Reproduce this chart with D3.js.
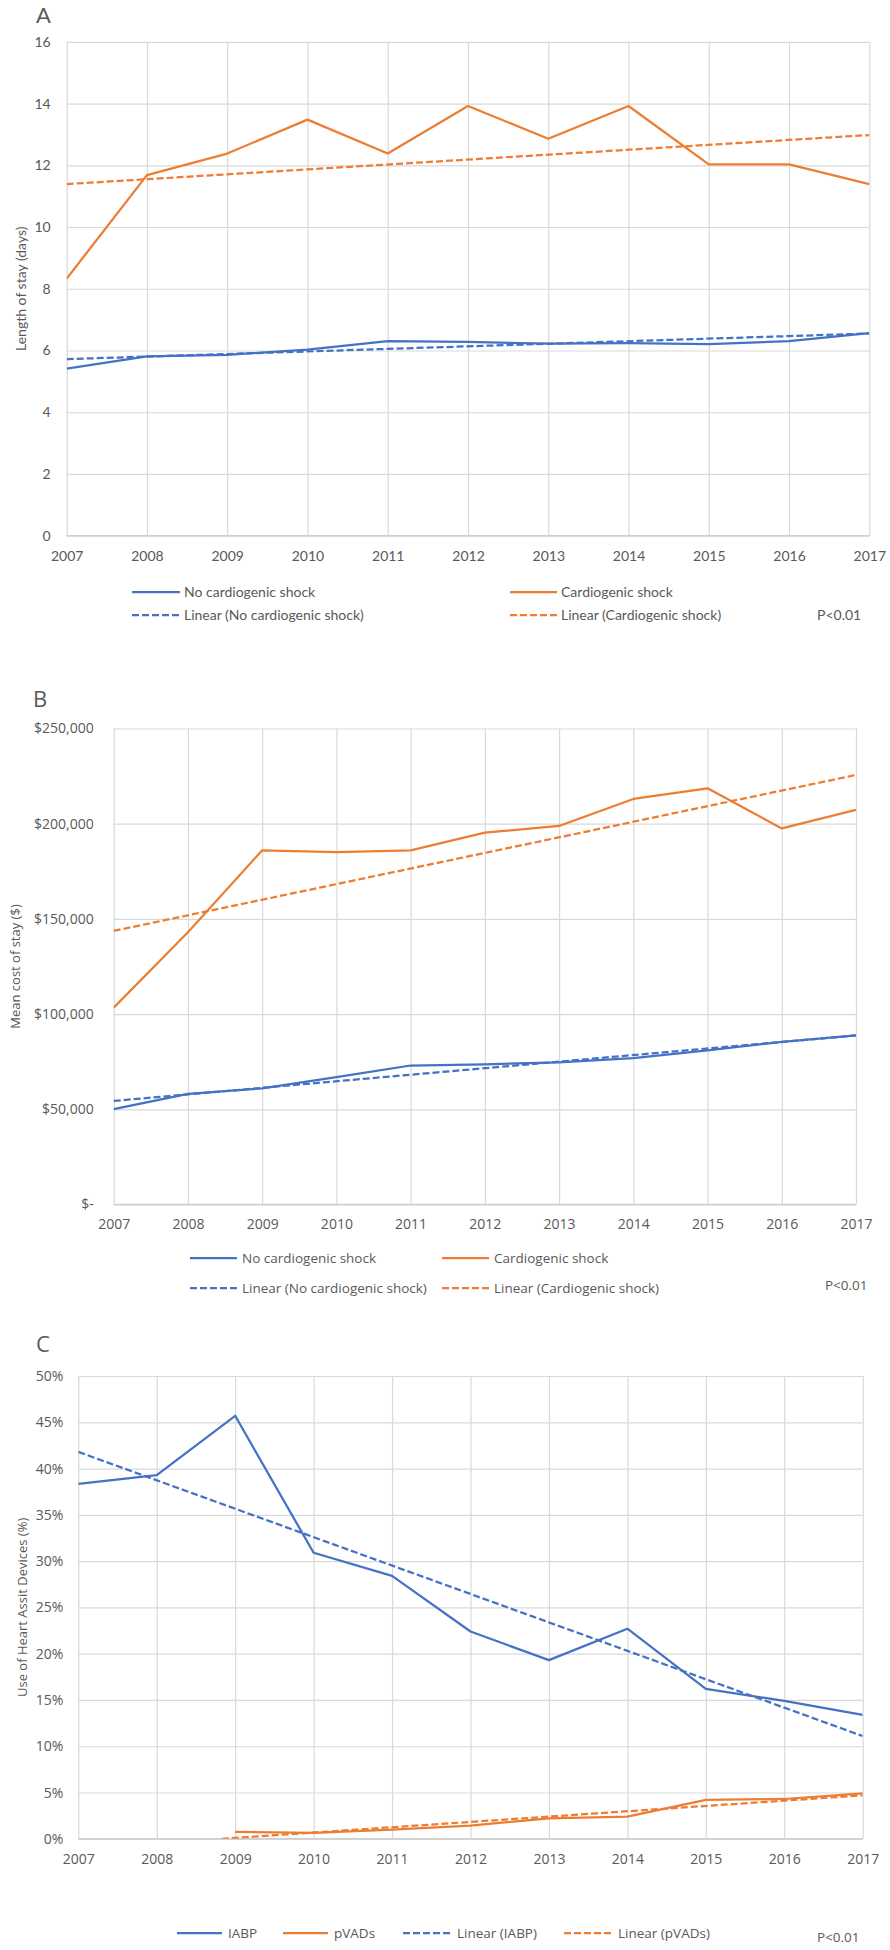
<!DOCTYPE html>
<html>
<head>
<meta charset="utf-8">
<script src="https://cdn.jsdelivr.net/npm/d3@7"></script>
<style>
  html, body { margin: 0; padding: 0; background: #ffffff; }
  svg { display: block; }
</style>
</head>
<body>
<script>
// ---------------- DATA ----------------
const years = [2007, 2008, 2009, 2010, 2011, 2012, 2013, 2014, 2015, 2016, 2017];

// Panel A: length of stay (days)
const noShockLos = [5.41, 5.81, 5.86, 6.03, 6.30, 6.28, 6.22, 6.24, 6.21, 6.30, 6.56];
const shockLos   = [8.33, 11.68, 12.38, 13.48, 12.38, 13.92, 12.86, 13.92, 12.03, 12.03, 11.39];
const trendYears = [2007, 2017];
const noShockLosTrend = [5.72, 6.55];
const shockLosTrend   = [11.39, 12.98];
const losTicks = [0, 2, 4, 6, 8, 10, 12, 14, 16];

// Panel B: mean cost of stay ($)
const noShockCost = [50100, 58100, 61000, 66900, 73000, 73600, 74700, 76900, 81000, 85400, 88800];
const shockCost   = [103400, 143000, 186000, 185100, 186000, 195300, 198800, 213000, 218600, 197500, 207300];
const noShockCostTrend = [54400, 88800];
const shockCostTrend   = [143700, 225600];
const costTicks = [0, 50000, 100000, 150000, 200000, 250000];

// Panel C: use of heart assist devices (%)
const iabp  = [0.3835, 0.393, 0.457, 0.309, 0.284, 0.224, 0.193, 0.227, 0.162, 0.149, 0.134];
const pvads = [null, null, 0.0076, 0.0063, 0.010, 0.0143, 0.022, 0.024, 0.042, 0.043, 0.049];
const iabpTrend = [0.418, 0.111];
const pvadTrendYears = [2008.83, 2017];
const pvadTrend = [0.0, 0.047];
const pctTicks = [0, 0.05, 0.10, 0.15, 0.20, 0.25, 0.30, 0.35, 0.40, 0.45, 0.50];

// ---------------- STYLE ----------------
const BLUE = "#4472C4";
const ORANGE = "#ED7D31";
const GRID = "#D9D9D9";
const TEXT = "#595959";
const DASH = "7,3";
const LW = 2.25;

const svg = d3.select("body").append("svg")
  .attr("width", 890).attr("height", 1950)
  .attr("xmlns", "http://www.w3.org/2000/svg");
svg.append("rect").attr("width", 890).attr("height", 1950).attr("fill", "#fff");

function toPts(xs, vs) { return xs.map((yr, i) => ({ year: yr, v: vs[i] })); }

function drawPanel(o) {
  const g = svg.append("g");
  const x = d3.scaleLinear().domain([2007, 2017]).range([o.left, o.right]);
  const y = d3.scaleLinear().domain(o.yDomain).range([o.bottom, o.top]);

  // horizontal gridlines
  g.append("g")
    .attr("transform", `translate(${o.left},0)`)
    .call(d3.axisLeft(y).tickValues(o.yTicks).tickSize(-(o.right - o.left)).tickFormat(""))
    .call(s => s.select(".domain").remove())
    .call(s => s.selectAll("line").attr("stroke", GRID).attr("stroke-width", 1.2));

  // vertical gridlines
  g.append("g")
    .attr("transform", `translate(0,${o.bottom})`)
    .call(d3.axisBottom(x).tickValues(years).tickSize(-(o.bottom - o.top)).tickFormat(""))
    .call(s => s.select(".domain").remove())
    .call(s => s.selectAll("line").attr("stroke", GRID).attr("stroke-width", 1.2));

  // bottom axis line
  g.append("line")
    .attr("x1", o.left).attr("x2", o.right).attr("y1", y(o.yDomain[0])).attr("y2", y(o.yDomain[0]))
    .attr("stroke", "#CFCFCF").attr("stroke-width", 1.4);

  // y tick labels
  g.append("g")
    .attr("transform", `translate(${o.left},0)`)
    .call(d3.axisLeft(y).tickValues(o.yTicks).tickSize(0).tickPadding(o.tickPad).tickFormat(o.yFormat))
    .call(s => s.select(".domain").remove())
    .call(s => s.selectAll("text")
      .attr("fill", TEXT).attr("font-family", o.font).attr("font-size", o.tickSize));

  // x tick labels
  g.append("g")
    .attr("transform", `translate(0,${o.bottom})`)
    .call(d3.axisBottom(x).tickValues(years).tickSize(0).tickFormat(d3.format("d")))
    .call(s => s.select(".domain").remove())
    .call(s => s.selectAll("text")
      .attr("y", o.xLabelY - o.bottom).attr("dy", "0.35em")
      .attr("fill", TEXT).attr("font-family", o.font).attr("font-size", o.tickSize));

  // y title
  g.append("text")
    .attr("transform", `translate(${o.titleX},${(o.top + o.bottom) / 2}) rotate(-90)`)
    .attr("text-anchor", "middle").attr("dy", "0.35em")
    .attr("fill", TEXT).attr("font-family", o.font).attr("font-size", o.titleSize)
    .text(o.yTitle);

  // panel letter
  g.append("text")
    .attr("x", o.letterX).attr("y", o.letterY)
    .attr("fill", TEXT).attr("font-family", o.font).attr("font-size", 22)
    .text(o.letter);

  // clip
  const cid = "clip" + o.letter;
  svg.append("clipPath").attr("id", cid)
    .append("rect").attr("x", o.left).attr("y", o.top - 2)
    .attr("width", o.right - o.left).attr("height", o.bottom - o.top + 2);

  const line = d3.line().defined(d => d.v != null).x(d => x(d.year)).y(d => y(d.v));
  const lines = g.append("g").attr("clip-path", `url(#${cid})`);
  o.series.forEach(s => {
    lines.append("path")
      .datum(s.pts)
      .attr("d", line)
      .attr("fill", "none")
      .attr("stroke", s.color)
      .attr("stroke-width", LW)
      .attr("stroke-linejoin", "round")
      .attr("stroke-dasharray", s.dash ? DASH : null);
  });

  // legend
  const lg = g.append("g");
  o.legend.forEach(l => {
    lg.append("line")
      .attr("x1", l.x1).attr("x2", l.x2).attr("y1", l.y).attr("y2", l.y)
      .attr("stroke", l.color).attr("stroke-width", LW)
      .attr("stroke-dasharray", l.dash ? DASH : null);
    lg.append("text")
      .attr("x", l.tx).attr("y", l.y).attr("dy", "0.35em")
      .attr("fill", TEXT).attr("font-family", o.font).attr("font-size", o.legendSize)
      .text(l.label);
  });

  g.append("text")
    .attr("x", o.pX).attr("y", o.pY).attr("dy", "0.35em")
    .attr("fill", TEXT).attr("font-family", o.font).attr("font-size", o.legendSize)
    .text("P<0.01");
}

// ---------------- PANEL A ----------------
drawPanel({
  letter: "A", letterX: 36, letterY: 23,
  left: 66.7, right: 869.3, top: 41.8, bottom: 535.7,
  yDomain: [0, 16], yTicks: losTicks, yFormat: d3.format("d"),
  font: "Lato", tickSize: 14, titleSize: 14, legendSize: 14, tickPad: 16,
  xLabelY: 556, titleX: 21, yTitle: "Length of stay (days)",
  series: [
    { pts: toPts(years, noShockLos), color: BLUE },
    { pts: toPts(years, shockLos), color: ORANGE },
    { pts: toPts(trendYears, noShockLosTrend), color: BLUE, dash: true },
    { pts: toPts(trendYears, shockLosTrend), color: ORANGE, dash: true }
  ],
  legend: [
    { label: "No cardiogenic shock", color: BLUE, x1: 132, x2: 180, tx: 184, y: 592 },
    { label: "Cardiogenic shock", color: ORANGE, x1: 510, x2: 557, tx: 561, y: 592 },
    { label: "Linear (No cardiogenic shock)", color: BLUE, dash: true, x1: 132, x2: 180, tx: 184, y: 615 },
    { label: "Linear (Cardiogenic shock)", color: ORANGE, dash: true, x1: 510, x2: 557, tx: 561, y: 615 }
  ],
  pX: 817, pY: 615
});

// ---------------- PANEL B ----------------
const fmtCost = v => v === 0 ? "$-" : "$" + d3.format(",")(v);
drawPanel({
  letter: "B", letterX: 33, letterY: 707,
  left: 113.7, right: 856, top: 728.5, bottom: 1204.5,
  yDomain: [0, 250000], yTicks: costTicks, yFormat: fmtCost,
  font: "Open Sans", tickSize: 14, titleSize: 13, legendSize: 13.5, tickPad: 20,
  xLabelY: 1224, titleX: 15, yTitle: "Mean cost of stay ($)",
  series: [
    { pts: toPts(years, noShockCost), color: BLUE },
    { pts: toPts(years, shockCost), color: ORANGE },
    { pts: toPts(trendYears, noShockCostTrend), color: BLUE, dash: true },
    { pts: toPts(trendYears, shockCostTrend), color: ORANGE, dash: true }
  ],
  legend: [
    { label: "No cardiogenic shock", color: BLUE, x1: 190, x2: 237, tx: 242, y: 1258 },
    { label: "Cardiogenic shock", color: ORANGE, x1: 442, x2: 489, tx: 494, y: 1258 },
    { label: "Linear (No cardiogenic shock)", color: BLUE, dash: true, x1: 190, x2: 237, tx: 242, y: 1288 },
    { label: "Linear (Cardiogenic shock)", color: ORANGE, dash: true, x1: 442, x2: 489, tx: 494, y: 1288 }
  ],
  pX: 825, pY: 1285
});

// ---------------- PANEL C ----------------
drawPanel({
  letter: "C", letterX: 36, letterY: 1352,
  left: 78.3, right: 862.7, top: 1376, bottom: 1838.8,
  yDomain: [0, 0.5], yTicks: pctTicks, yFormat: d3.format(".0%"),
  font: "Open Sans", tickSize: 14, titleSize: 13, legendSize: 13.5, tickPad: 15,
  xLabelY: 1858.7, titleX: 22, yTitle: "Use of Heart Assit Devices (%)",
  series: [
    { pts: toPts(years, iabp), color: BLUE },
    { pts: toPts(years, pvads), color: ORANGE },
    { pts: toPts(trendYears, iabpTrend), color: BLUE, dash: true },
    { pts: toPts(pvadTrendYears, pvadTrend), color: ORANGE, dash: true }
  ],
  legend: [
    { label: "IABP", color: BLUE, x1: 177, x2: 222, tx: 228, y: 1933 },
    { label: "pVADs", color: ORANGE, x1: 283, x2: 328, tx: 334, y: 1933 },
    { label: "Linear (IABP)", color: BLUE, dash: true, x1: 403, x2: 452, tx: 457, y: 1933 },
    { label: "Linear (pVADs)", color: ORANGE, dash: true, x1: 564, x2: 613, tx: 618, y: 1933 }
  ],
  pX: 817, pY: 1937
});
</script>
</body>
</html>
